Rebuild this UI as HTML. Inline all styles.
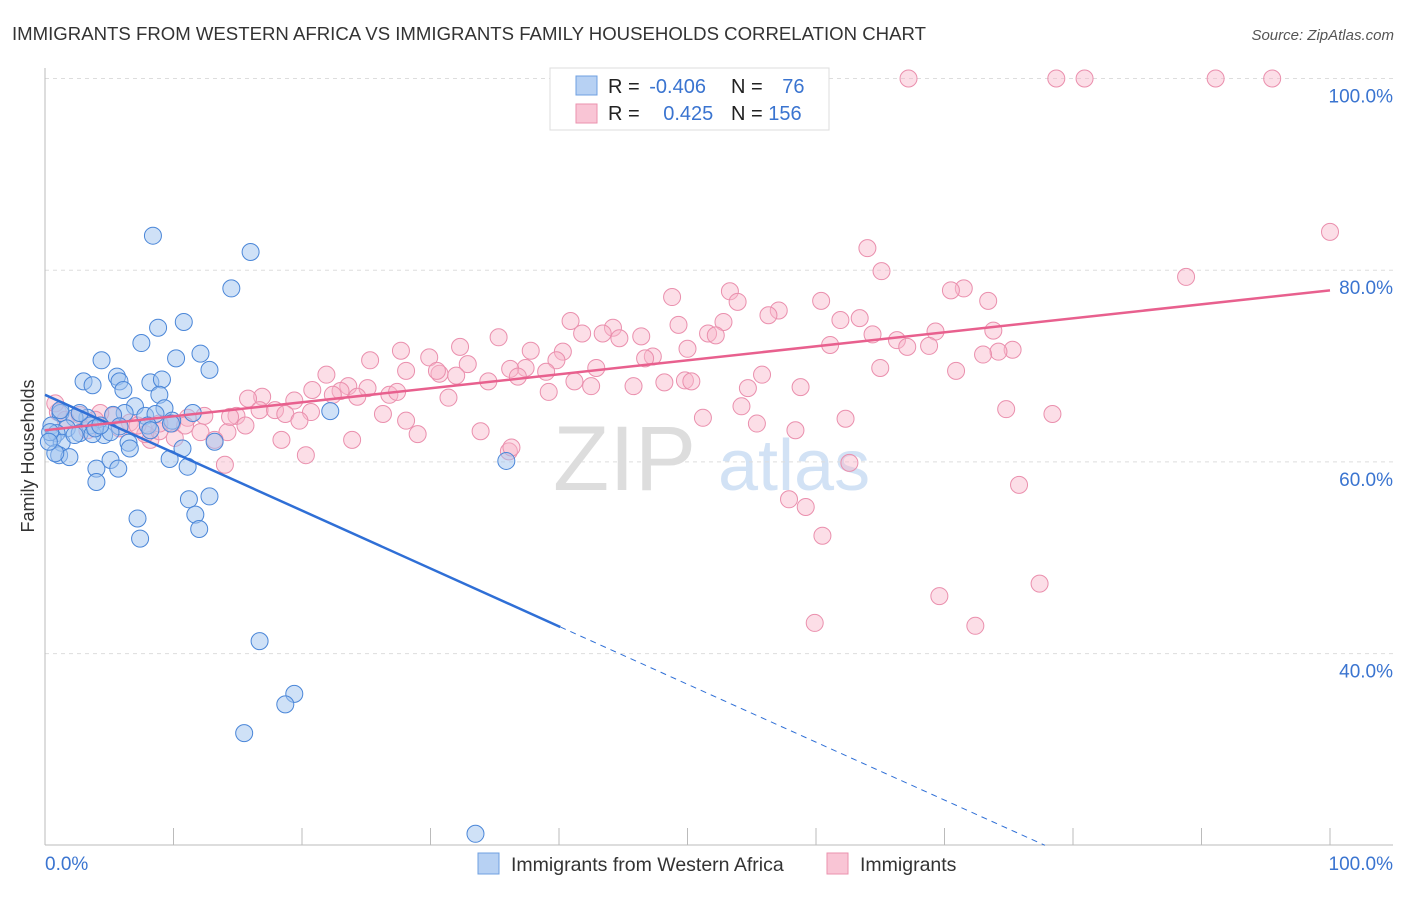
<!DOCTYPE html>
<html><head><meta charset="utf-8"><style>
body{margin:0;background:#fff;font-family:"Liberation Sans",sans-serif;}
svg text{font-family:"Liberation Sans",sans-serif;}
</style></head><body>
<svg id="chart" width="1406" height="892" xmlns="http://www.w3.org/2000/svg">
<text x="12" y="40" font-size="18.6" fill="#333">IMMIGRANTS FROM WESTERN AFRICA VS IMMIGRANTS FAMILY HOUSEHOLDS CORRELATION CHART</text>
<text x="1394" y="40" font-size="15" fill="#555" text-anchor="end" font-style="italic">Source: ZipAtlas.com</text>
<text x="34" y="456" font-size="18" fill="#333" text-anchor="middle" transform="rotate(-90 34 456)">Family Households</text>
<g>
<text x="553" y="490" font-size="92" fill="#ddd" font-family="Liberation Serif">ZIP</text>
<text x="718" y="490" font-size="72" fill="#d2e2f5">atlas</text>
</g>
<g id="grid"></g><g id="axes"></g><g id="pts"></g><g id="lines"></g>
<g>
<rect x="550" y="68" width="279" height="62" fill="#fff" stroke="#ddd"/>
<rect x="576" y="76" width="21" height="19" fill="#b7d1f3" stroke="#6fa0e0"/>
<rect x="576" y="104" width="21" height="19" fill="#f9c5d5" stroke="#eb92ae"/>
<text x="608" y="93" font-size="20" fill="#222">R = <tspan fill="#3a74d0" dx="4">-0.406</tspan></text>
<text x="731" y="93" font-size="20" fill="#222">N = <tspan fill="#3a74d0" dx="14">76</tspan></text>
<text x="608" y="120" font-size="20" fill="#222">R = <tspan fill="#3a74d0" dx="18">0.425</tspan></text>
<text x="731" y="120" font-size="20" fill="#222">N = <tspan fill="#3a74d0">156</tspan></text>
</g>
<g>
<rect x="478" y="853" width="21" height="21" fill="#b7d1f3" stroke="#6fa0e0"/>
<text x="511" y="871" font-size="19.5" fill="#333">Immigrants from Western Africa</text>
<rect x="827" y="853" width="21" height="21" fill="#f9c5d5" stroke="#eb92ae"/>
<text x="860" y="871" font-size="19.5" fill="#333">Immigrants</text>
</g>
</svg>
<script>
const yTicks=[100,80,60,40];
const yTickLabels=["100.0%","80.0%","60.0%","40.0%"];
const xTickLabels=["0.0%","100.0%"];
const blueX=[8.4,16.0,14.5,8.8,10.8,7.5,12.1,10.2,4.4,12.8,3.0,5.6,5.8,8.2,9.1,3.7,6.1,7.0,8.9,9.3,11.5,6.2,5.3,1.2,3.3,7.8,8.6,9.9,8.0,3.5,2.3,0.5,1.7,4.6,0.9,2.7,3.7,0.6,6.5,13.2,6.6,10.7,1.3,1.1,1.9,0.8,5.1,9.7,11.1,4.0,5.7,4.0,12.8,11.2,11.7,7.2,12.0,7.4,16.7,19.4,18.7,15.5,33.5,35.9,22.2,5.8,5.1,2.3,8.2,9.8,0.4,0.3,2.7,1.2,3.9,4.3];
const blueY=[83.6,81.9,78.1,74.0,74.6,72.4,71.3,70.8,70.6,69.6,68.4,68.9,68.4,68.3,68.6,68.0,67.5,65.8,67.0,65.6,65.1,65.1,64.9,65.1,64.6,64.8,65.0,64.3,63.8,63.8,64.6,63.8,63.5,62.8,63.0,63.0,62.9,62.5,62.0,62.1,61.4,61.4,62.0,60.7,60.5,60.9,60.2,60.3,59.5,59.3,59.3,57.9,56.4,56.1,54.5,54.1,53.0,52.0,41.3,35.8,34.7,31.7,21.2,60.1,65.3,63.7,63.1,62.8,63.3,64.0,63.1,62.1,65.1,65.4,63.5,63.8];
const pinkX=[67.2,78.7,80.9,91.1,95.5,100,64.0,65.1,88.8,71.5,70.5,53.3,48.8,53.9,60.4,73.4,57.1,56.3,63.4,61.9,40.9,52.8,49.3,44.2,41.8,43.4,51.6,69.3,73.8,35.3,46.4,44.7,64.4,66.3,52.2,61.1,32.3,50.0,37.8,40.3,27.7,67.1,68.8,29.9,47.3,46.7,75.3,74.2,73.0,25.3,39.8,32.9,37.4,42.9,39.0,36.2,65.0,30.7,32.0,28.1,21.9,30.5,41.2,42.5,34.5,36.8,49.8,48.2,50.3,45.8,70.9,55.8,54.7,58.8,23.6,25.1,23.0,20.8,26.8,27.4,31.4,39.2,16.9,19.4,15.8,16.7,17.9,18.7,14.9,20.7,24.3,22.4,12.4,11.1,14.2,12.1,26.3,28.1,29.0,33.9,51.2,54.2,55.4,62.3,58.4,74.8,78.4,19.8,13.2,10.1,8.2,15.6,14.4,5.3,2.7,4.3,1.0,0.8,6.6,7.8,8.9,5.8,3.3,1.6,14.0,18.4,20.3,23.9,36.1,36.3,62.6,75.8,57.9,59.2,60.5,69.6,77.4,72.4,59.9,9.9,3.9,7.2,10.9,8.9];
const pinkY=[100,100,100,100,100,84.0,82.3,79.9,79.3,78.1,77.9,77.8,77.2,76.7,76.8,76.8,75.8,75.3,75.0,74.8,74.7,74.6,74.3,74.0,73.4,73.4,73.4,73.6,73.7,73.0,73.1,72.9,73.3,72.7,73.2,72.2,72.0,71.8,71.6,71.5,71.6,72.0,72.1,70.9,71.0,70.8,71.7,71.5,71.2,70.6,70.6,70.2,69.8,69.8,69.4,69.7,69.8,69.2,69.0,69.5,69.1,69.5,68.4,67.9,68.4,68.9,68.5,68.3,68.4,67.9,69.5,69.1,67.7,67.8,67.9,67.7,67.4,67.5,67.0,67.3,66.7,67.3,66.8,66.4,66.6,65.4,65.4,65.0,64.8,65.2,66.8,67.0,64.8,64.6,63.1,63.1,65.0,64.3,62.9,63.2,64.6,65.8,64.0,64.5,63.3,65.5,65.0,64.3,62.3,62.5,62.3,63.8,64.7,64.8,64.9,65.1,65.2,66.1,64.1,62.9,63.2,63.5,63.3,64.4,59.7,62.3,60.7,62.3,61.1,61.5,59.9,57.6,56.1,55.3,52.3,46.0,47.3,42.9,43.2,64.0,64.4,63.8,63.8,64.0];
const blueTrend=[67.0,6.6];
const pinkTrend=[63.3,77.9];

const NS="http://www.w3.org/2000/svg";
const X0=45,X1=1330,YB=1037,YS=9.585;
function sx(v){return X0+(X1-X0)*v/100;}
function sy(v){return YB-v*YS;}
function mk(tag,attrs,parent){const e=document.createElementNS(NS,tag);for(const k in attrs)e.setAttribute(k,attrs[k]);document.getElementById(parent).appendChild(e);return e;}

yTicks.forEach((t,i)=>{
  const l=mk('line',{x1:45,x2:1393,y1:sy(t),y2:sy(t),stroke:'#ddd','stroke-dasharray':'4,4'},'grid');
  
  
  const tx=mk('text',{x:1393,y:sy(t)+24,'font-size':19,fill:'#3a74d0','text-anchor':'end'},'grid');
  tx.textContent=yTickLabels[i];
  
  
});
const ax=mk('line',{x1:45,x2:1393,y1:845,y2:845,stroke:'#bbb'},'axes');


const ay=mk('line',{x1:45,x2:45,y1:68,y2:845,stroke:'#bbb'},'axes');


for(let i=0;i<=10;i++){
  const t=mk('line',{x1:sx(i*10),x2:sx(i*10),y1:828,y2:845,stroke:'#bbb'},'axes');
  
  
}
const xl0=mk('text',{x:45,y:870,'font-size':19,fill:'#3a74d0'},'axes');
xl0.textContent=xTickLabels[0];


const xl1=mk('text',{x:1393,y:870,'font-size':19,fill:'#3a74d0','text-anchor':'end'},'axes');
xl1.textContent=xTickLabels[1];



pinkX.forEach((v,i)=>{
  const c=mk('circle',{cx:sx(v),cy:sy(pinkY[i]),r:8.5,fill:'rgba(248,182,202,0.45)',stroke:'#ea8fad','stroke-width':1},'pts');
  
  
});
blueX.forEach((v,i)=>{
  const c=mk('circle',{cx:sx(v),cy:sy(blueY[i]),r:8.5,fill:'rgba(160,196,240,0.5)',stroke:'#4a86d8','stroke-width':1},'pts');
  
  
});
const bAt=x=>blueTrend[0]+(blueTrend[1]-blueTrend[0])*x/100;
const xSolid=40.1;
const xEnd=(20-blueTrend[0])/(blueTrend[1]-blueTrend[0])*100;
const bl=mk('line',{x1:sx(0),y1:sy(bAt(0)),x2:sx(xSolid),y2:sy(bAt(xSolid)),stroke:'#2f6fd6','stroke-width':2.5},'lines');


const bd=mk('line',{x1:sx(xSolid),y1:sy(bAt(xSolid)),x2:sx(xEnd),y2:sy(bAt(xEnd)),stroke:'#2f6fd6','stroke-width':1,'stroke-dasharray':'6,5'},'lines');


const pl=mk('line',{x1:sx(0),y1:sy(pinkTrend[0]),x2:sx(100),y2:sy(pinkTrend[1]),stroke:'#e8608e','stroke-width':2.5},'lines');


</script>
</body></html>
